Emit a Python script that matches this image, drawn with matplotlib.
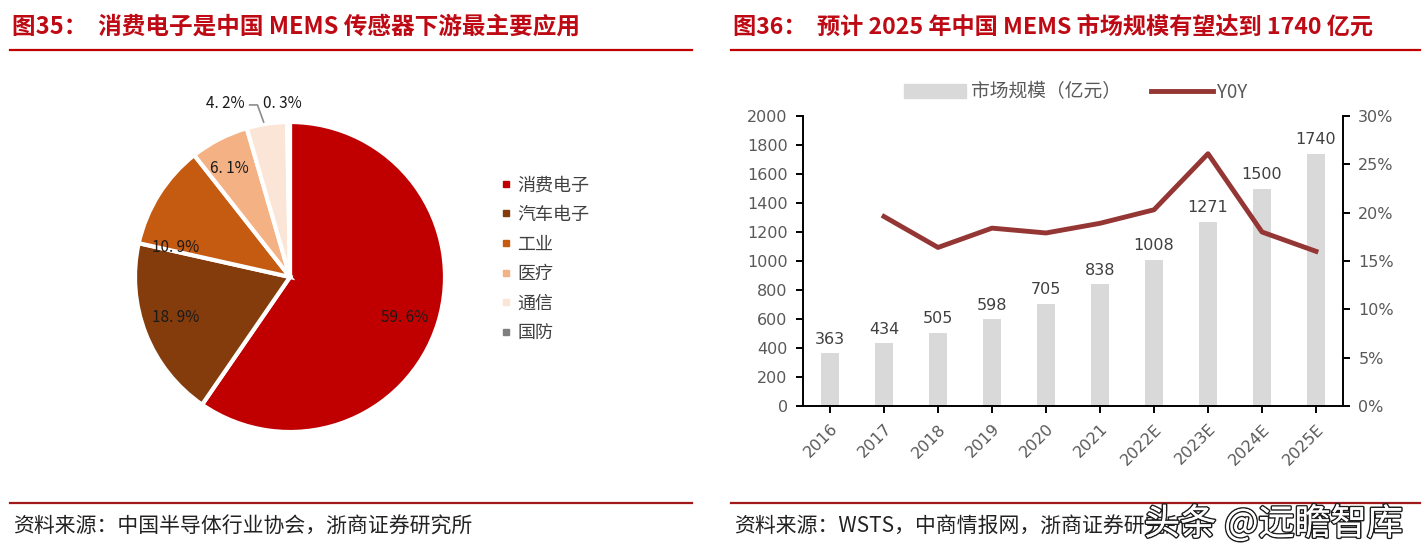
import matplotlib
matplotlib.use("Agg")
import matplotlib.pyplot as plt
import matplotlib.patheffects as pe
from matplotlib.lines import Line2D
from matplotlib.patches import Patch
import numpy as np

plt.rcParams['font.family'] = ['Noto Sans CJK SC', 'DejaVu Sans']

# ---- data ----
pie_labels = ["消费电子", "汽车电子", "工业", "医疗", "通信", "国防"]
pie_values = [59.6, 18.9, 10.9, 6.1, 4.2, 0.3]
pie_colors = ["#C00000", "#843C0C", "#C55A11", "#F4B183", "#FBE5D6", "#7F7F7F"]
pie_wedge_colors = ["#C00000", "#843C0C", "#C55A11", "#F4B183", "#FBE5D6", "#FFFFFF"]

years = ["2016", "2017", "2018", "2019", "2020", "2021", "2022E", "2023E", "2024E", "2025E"]
market = [363, 434, 505, 598, 705, 838, 1008, 1271, 1500, 1740]
yoy_years = years[1:]
yoy = [19.6, 16.4, 18.4, 17.9, 18.9, 20.3, 26.1, 18.0, 16.0]

W, H = 1428, 551
RED = "#BE0A14"
fig = plt.figure(figsize=(W / 100, H / 100), dpi=100)


def px(x, y):
    return x / W, 1 - y / H


# ---- titles, rules, sources ----
for x0, x1, title, tsize, src in [
    (10, 692, "图35：  消费电子是中国 MEMS 传感器下游最主要应用", 17, "资料来源：中国半导体行业协会，浙商证券研究所"),
    (731, 1420, "图36：  预计 2025 年中国 MEMS 市场规模有望达到 1740 亿元", 16.7, "资料来源：WSTS，中商情报网，浙商证券研究所"),
]:
    fig.text(*px(x0 + 2, 27), title, fontsize=tsize, fontweight="bold", color=RED, va="center")
    fig.add_artist(Line2D([x0 / W, x1 / W], [1 - 50 / H] * 2, color="#C00000", lw=1.6))
    fig.add_artist(Line2D([x0 / W, x1 / W], [1 - 503 / H] * 2, color="#A01818", lw=1.6))
    fig.text(*px(x0 + 3, 527), src, fontsize=15, color="#222222", va="center")

fig.text(*px(1144, 524), "头条 @远瞻智库", fontsize=26, color="white", va="center",
         path_effects=[pe.withStroke(linewidth=2.2, foreground="#1e1e1e"), pe.Normal()])

# ---- pie ----
cx, cy, r = 290, 277, 155
half = 200
ax1 = fig.add_axes([(cx - half) / W, (H - cy - half) / H, 2 * half / W, 2 * half / H])
wedges, _ = ax1.pie(pie_values, colors=pie_wedge_colors, startangle=90, counterclock=False,
                    radius=1, wedgeprops=dict(edgecolor="white", linewidth=3))
lim = half / r
ax1.set_xlim(-lim, lim)
ax1.set_ylim(-lim, lim)
ax1.set_aspect("equal")
ax1.axis("off")

label_pos = [(0.74, -0.26), (-0.74, -0.26), (-0.74, 0.19), (-0.39, 0.70), (-0.42, 1.12), (-0.05, 1.12)]
for v, (lx, ly) in zip(pie_values, label_pos):
    ax1.text(lx, ly, f"{v:.1f}%".replace(".", ". "), ha="center", va="center", fontsize=11,
             color="#1a1a1a")
# leader line for 4.2%
ax1.plot([-0.26, -0.21, -0.17], [1.11, 1.11, 1.0], color="#8c8c8c", lw=1.2)

handles = [Line2D([], [], marker="s", ls="", color=c, markersize=4) for c in pie_colors]
fig.legend(handles, pie_labels, loc="upper left", bbox_to_anchor=px(483, 160), frameon=False,
           fontsize=13, labelspacing=0.64, handletextpad=0.2, handlelength=0.8,
           labelcolor="#404040")

# ---- bar + line ----
ax2 = fig.add_axes([803 / W, (H - 406) / H, 540 / W, 290 / H])
x = np.arange(len(years))
bars = ax2.bar(x, market, width=0.34, color="#D9D9D9", label="市场规模（亿元）")
for xi, v in zip(x, market):
    ax2.text(xi, v + 45, str(v), ha="center", va="bottom", fontsize=11.5, color="#404040",
             family=["Liberation Sans Narrow", "DejaVu Sans"])
ax2.set_xlim(-0.5, len(years) - 0.5)
ax2.set_ylim(0, 2000)
ax2.set_yticks(range(0, 2001, 200))
ax2.set_xticks(x)
ax2.set_xticklabels(years, rotation=45, ha="right", rotation_mode="anchor")
ax2.spines["top"].set_visible(False)
ax2.spines["right"].set_visible(False)
for s in ["left", "bottom"]:
    ax2.spines[s].set_linewidth(1.4)

ax3 = ax2.twinx()
ax3.plot(x[1:], yoy, color="#943634", lw=3.5, label="Y0Y")
ax3.set_ylim(0, 30)
ax3.set_yticks(range(0, 31, 5))
ax3.set_yticklabels([f"{t}%" for t in range(0, 31, 5)])
ax3.spines["top"].set_visible(False)
ax3.spines["left"].set_visible(False)
ax3.spines["bottom"].set_visible(False)
ax3.spines["right"].set_linewidth(1.4)

for a in (ax2, ax3):
    a.tick_params(length=5, width=1.4, labelsize=11.5, labelcolor="#595959", pad=6)
    for lab in a.get_xticklabels() + a.get_yticklabels():
        lab.set_family(["Liberation Sans Narrow", "DejaVu Sans"])

leg_handles = [Patch(color="#D9D9D9"), Line2D([], [], color="#943634", lw=3.5)]
fig.legend(leg_handles, ["市场规模（亿元）", "Y0Y"], loc="center", bbox_to_anchor=px(1076, 92),
           ncol=2, frameon=False, fontsize=13.5, labelcolor="#595959", handlelength=3.3,
           handleheight=0.7, columnspacing=1.6, handletextpad=0.25)

fig.savefig("out.png", dpi=100)
